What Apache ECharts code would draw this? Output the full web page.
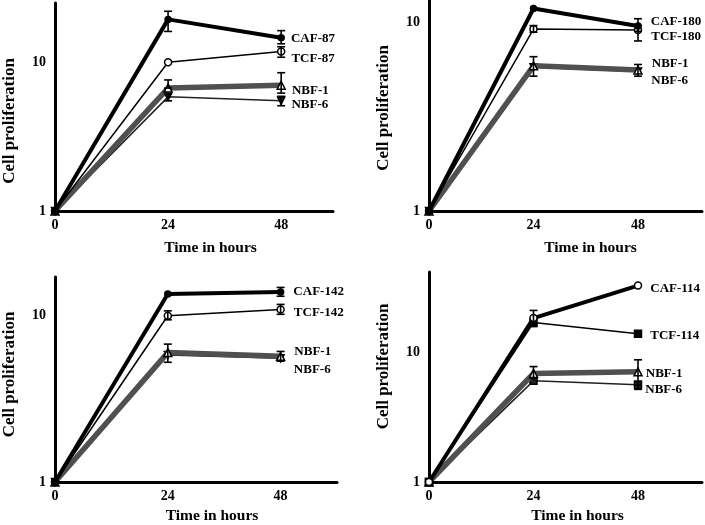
<!DOCTYPE html>
<html>
<head>
<meta charset="utf-8">
<script src="https://cdn.jsdelivr.net/npm/echarts@6/dist/echarts.min.js"></script>
<style>
  html, body { margin: 0; padding: 0; background: #fff; }
  #main { width: 705px; height: 525px; }
</style>
</head>
<body>
<div id="main"></div>
<script>
// time points (hours)
const hours = [0, 24, 48]

// panel 1
const labels1 = ['CAF-87', 'TCF-87', 'NBF-1', 'NBF-6']
const values1 = [[1, 19.4, 14.6], [1, 10.0, 11.8], [1, 6.7, 7.0], [1, 5.85, 5.5]]
const low1 = [[1, 16.1, 13.3], [1, 10.0, 10.8], [1, 6.7, 6.2], [1, 5.5, 5.1]]
const high1 = [[1, 22.0, 16.3], [1, 10.0, 12.7], [1, 7.6, 8.5], [1, 6.1, 5.9]]

// panel 2
const labels2 = ['CAF-180', 'TCF-180', 'NBF-1', 'NBF-6']
const values2 = [[1, 11.9, 9.6], [1, 9.25, 9.15], [1, 5.9, 5.6], [1, 5.8, 5.5]]
const low2 = [[1, 11.9, 9.0], [1, 8.9, 8.0], [1, 5.2, 5.2], [1, 5.8, 5.5]]
const high2 = [[1, 11.9, 10.5], [1, 9.65, 9.65], [1, 6.6, 6.0], [1, 5.8, 5.5]]

// panel 3
const labels3 = ['CAF-142', 'TCF-142', 'NBF-1', 'NBF-6']
const values3 = [[1, 13.5, 13.9], [1, 10.0, 10.9], [1, 6.0, 5.7], [1, 5.8, 5.55]]
const low3 = [[1, 13.5, 13.1], [1, 9.45, 10.2], [1, 5.25, 5.33], [1, 5.8, 5.55]]
const high3 = [[1, 13.5, 14.8], [1, 10.7, 11.7], [1, 6.75, 6.1], [1, 5.8, 5.55]]

// panel 4
const labels4 = ['CAF-114', 'TCF-114', 'NBF-1', 'NBF-6']
const values4 = [[1, 18.5, 33.0], [1, 17.1, 14.0], [1, 6.9, 7.1], [1, 6.05, 5.65]]
const low4 = [[1, 16.5, 33.0], [1, 15.9, 14.0], [1, 6.3, 5.6], [1, 6.05, 5.2]]
const high4 = [[1, 21.2, 33.0], [1, 17.1, 14.0], [1, 7.8, 8.8], [1, 6.05, 6.0]]

const serif = 'Liberation Serif, Times New Roman, serif'

// layout of each panel
const panels = [
  { labels: labels1, values: values1, low: low1, high: high1,
    grid: { left: 53, top: 3, width: 280, height: 208 }, xMax: 59, yMax: 25,
    xNamePad: [0, 0, 0, 33], xNameGap: 29, yNamePad: [0, 28, 0, 0],
    labelDy: [1, 7, 5, 4], labelDist: [6, 6, 6, 6], set: 0 },
  { labels: labels2, values: values2, low: low2, high: high2,
    grid: { left: 429, top: 0, width: 275, height: 211 }, xMax: 62.7, yMax: 13.2,
    xNamePad: [0, 0, 0, 50], xNameGap: 29, yNamePad: [0, 5, 0, 0],
    labelDy: [-4, 7, -6, 9], labelDist: [9, 9, 9, 9], set: 0 },
  { labels: labels3, values: values3, low: low3, high: high3,
    grid: { left: 53, top: 277, width: 284, height: 211 }, xMax: 60, yMax: 17.1,
    xNamePad: [0, 0, 0, 32], xNameGap: 26, yNamePad: [0, 0, 0, 10],
    labelDy: [0, 3, -5, 11], labelDist: [9, 9, 9, 9], set: 0 },
  { labels: labels4, values: values4, low: low4, high: high4,
    grid: { left: 429, top: 272, width: 275, height: 216 }, xMax: 62.7, yMax: 42,
    xNamePad: [0, 0, 0, 24], xNameGap: 26, yNamePad: [0, 0, 0, 21],
    labelDy: [3, 2, 2, 5], labelDist: [8, 8, 3, 3], set: 1 }
]

// line / marker styles: CAF, TCF, NBF-1, NBF-6
const styleSets = [
  [
    { width: 4, color: '#000', symbol: 'circle', size: 6, fill: '#000' },
    { width: 1.5, color: '#000', symbol: 'circle', size: 7, fill: '#fff' },
    { width: 5.5, color: '#505050', symbol: 'triangle', size: 8, fill: '#fff' },
    { width: 1.5, color: '#222', symbol: 'triangle', size: 7, fill: '#222', rotate: 180 }
  ],
  [
    { width: 4, color: '#000', symbol: 'circle', size: 7, fill: '#fff' },
    { width: 1.5, color: '#000', symbol: 'rect', size: 7, fill: '#000' },
    { width: 5.5, color: '#505050', symbol: 'triangle', size: 8, fill: '#fff' },
    { width: 1.5, color: '#222', symbol: 'rect', size: 7, fill: '#222' }
  ]
]

function errItem (params, api) {
  const x = api.value(0)
  const lo = api.value(1)
  const hi = api.value(2)
  if (hi - lo < 0.001) return null
  const a = api.coord([x, hi])
  const b = api.coord([x, lo])
  const w = 4
  const st = { stroke: '#000', lineWidth: 1.6 }
  return {
    type: 'group',
    children: [
      { type: 'line', shape: { x1: a[0], y1: a[1], x2: b[0], y2: b[1] }, style: st },
      { type: 'line', shape: { x1: a[0] - w, y1: a[1], x2: a[0] + w, y2: a[1] }, style: st },
      { type: 'line', shape: { x1: b[0] - w, y1: b[1], x2: b[0] + w, y2: b[1] }, style: st }
    ]
  }
}

const grids = []
const xAxes = []
const yAxes = []
const series = []

panels.forEach((p, pi) => {
  grids.push(Object.assign({ containLabel: false }, p.grid))
  xAxes.push({
    type: 'value', gridIndex: pi, min: 0, max: p.xMax, interval: 24,
    name: 'Time in hours', nameLocation: 'middle', nameGap: p.xNameGap,
    nameTextStyle: { fontFamily: serif, fontWeight: 'bold', fontSize: 15.5, color: '#000', padding: p.xNamePad },
    axisLine: { lineStyle: { color: '#000', width: 3 } },
    axisTick: { show: false },
    splitLine: { show: false },
    axisLabel: {
      margin: 7, fontFamily: serif, fontWeight: 'bold', fontSize: 14, color: '#000',
      formatter: v => hours.includes(v) ? String(v) : ''
    }
  })
  yAxes.push({
    type: 'log', logBase: 10, gridIndex: pi, min: 1, max: p.yMax,
    name: 'Cell proliferation', nameLocation: 'middle', nameGap: 37,
    nameTextStyle: { fontFamily: serif, fontWeight: 'bold', fontSize: 17, color: '#000', padding: p.yNamePad },
    axisLine: { lineStyle: { color: '#000', width: 3 } },
    axisTick: { show: false },
    splitLine: { show: false },
    minorTick: { show: false },
    axisLabel: {
      margin: 9, fontFamily: serif, fontWeight: 'bold', fontSize: 14, color: '#000',
      formatter: v => {
        const r = Math.round(v)
        return (Math.abs(v - r) < 1e-6 && (r === 1 || r === 10)) ? String(r) : ''
      }
    }
  })
  const styles = styleSets[p.set]
  p.values.forEach((vals, si) => {
    const s = styles[si]
    const data = vals.map((v, i) => {
      const item = { value: [hours[i], v] }
      if (i === vals.length - 1) {
        item.label = {
          show: true, position: 'right', distance: p.labelDist[si], offset: [0, p.labelDy[si]],
          formatter: p.labels[si], fontFamily: serif, fontWeight: 'bold', fontSize: 13, color: '#000'
        }
      }
      return item
    })
    series.push({
      type: 'line', name: p.labels[si], xAxisIndex: pi, yAxisIndex: pi,
      data: data, symbol: s.symbol, symbolSize: s.size, symbolRotate: s.rotate || 0,
      showAllSymbol: true, animation: false, z: 4 - si,
      lineStyle: { color: s.color, width: s.width },
      itemStyle: { color: s.fill, borderColor: '#000', borderWidth: 1.5 }
    })
    series.push({
      type: 'custom', xAxisIndex: pi, yAxisIndex: pi, renderItem: errItem,
      animation: false, z: 6, silent: true,
      data: vals.map((v, i) => [hours[i], p.low[si][i], p.high[si][i]]),
      encode: { x: 0, y: [1, 2] }
    })
  })
})

const chart = echarts.init(document.getElementById('main'))
chart.setOption({
  backgroundColor: '#fff',
  animation: false,
  grid: grids,
  xAxis: xAxes,
  yAxis: yAxes,
  series: series
})
</script>
</body>
</html>
